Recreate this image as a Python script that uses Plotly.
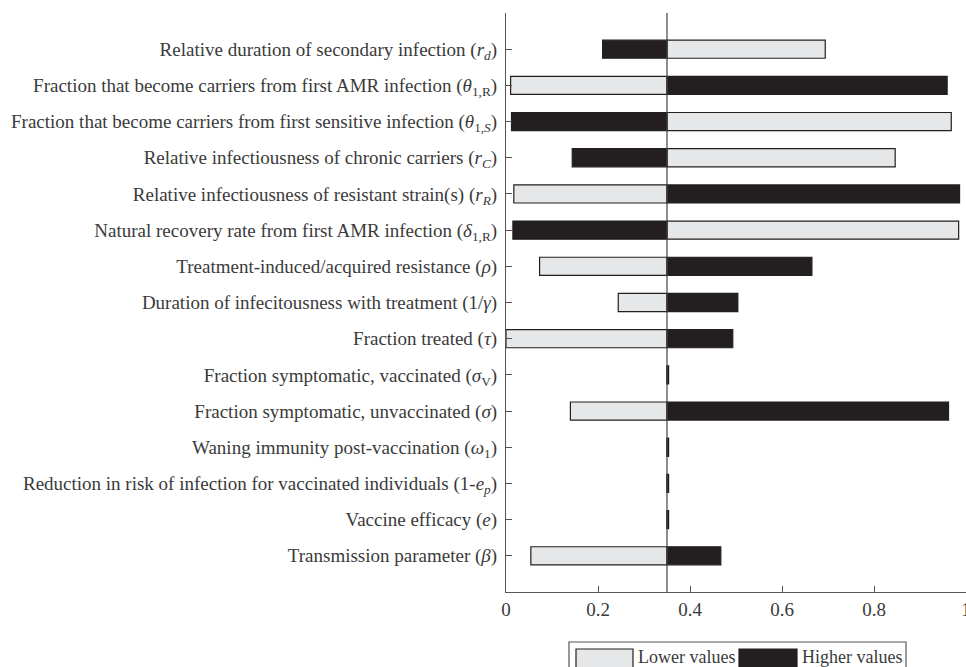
import plotly.graph_objects as go

# Parameters listed top to bottom
categories = [
    "Relative duration of secondary infection (<i>r</i><sub><i>d</i></sub>)",
    "Fraction that become carriers from first AMR infection (<i>θ</i><sub>1,R</sub>)",
    "Fraction that become carriers from first sensitive infection (<i>θ</i><sub>1,<i>S</i></sub>)",
    "Relative infectiousness of chronic carriers (<i>r</i><sub><i>C</i></sub>)",
    "Relative infectiousness of resistant strain(s) (<i>r</i><sub><i>R</i></sub>)",
    "Natural recovery rate from first AMR infection (<i>δ</i><sub>1,R</sub>)",
    "Treatment-induced/acquired resistance (<i>ρ</i>)",
    "Duration of infecitousness with treatment (1/<i>γ</i>)",
    "Fraction treated (<i>τ</i>)",
    "Fraction symptomatic, vaccinated (<i>σ</i><sub>V</sub>)",
    "Fraction symptomatic, unvaccinated (<i>σ</i>)",
    "Waning immunity post-vaccination (<i>ω</i><sub>1</sub>)",
    "Reduction in risk of infection for vaccinated individuals (1-<i>e</i><sub><i>p</i></sub>)",
    "Vaccine efficacy (<i>e</i>)",
    "Transmission parameter (<i>β</i>)",
]
lower_values = [0.694, 0.010, 0.968, 0.846, 0.017, 0.984, 0.073, 0.244, 0.000,
                0.350, 0.140, 0.350, 0.350, 0.350, 0.054]
higher_values = [0.210, 0.959, 0.012, 0.144, 0.986, 0.015, 0.665, 0.504, 0.493,
                 0.3535, 0.962, 0.3535, 0.3535, 0.3535, 0.467]
baseline = 0.35
x_ticks = [0, 0.2, 0.4, 0.6, 0.8, 1]
x_tick_labels = ["0", "0.2", "0.4", "0.6", "0.8", "1"]

n = len(categories)
ypos = [n - i for i in range(n)]

LIGHT = "#e6e7e8"
DARK = "#231f20"
TXT = "#3a3a3a"
FONT = "Liberation Serif"

fig = go.Figure()
fig.add_trace(go.Bar(
    y=ypos, x=[v - baseline for v in lower_values], base=baseline,
    orientation="h", width=0.5, name="Lower values",
    marker=dict(color=LIGHT, line=dict(color=DARK, width=1.2)),
    showlegend=False,
))
fig.add_trace(go.Bar(
    y=ypos, x=[v - baseline for v in higher_values], base=baseline,
    orientation="h", width=0.5, name="Higher values",
    marker=dict(color=DARK, line=dict(color=DARK, width=1.2)),
    showlegend=False,
))

fig.add_shape(type="line", xref="x", yref="paper", x0=baseline, x1=baseline,
              y0=0, y1=1, line=dict(color="#444", width=1.2), layer="above")

# Legend (drawn below the plot); pixel -> paper helpers
def px_y(p):
    return (592 - p) / 579.0
def px_x(p):
    return (p - 506) / 460.0

fig.add_shape(type="rect", xref="paper", yref="paper",
              x0=px_x(569), x1=px_x(906), y0=px_y(690), y1=px_y(642),
              line=dict(color="#555", width=1.2), fillcolor="white")
fig.add_shape(type="rect", xref="paper", yref="paper",
              x0=px_x(576), x1=px_x(633), y0=px_y(672), y1=px_y(649),
              line=dict(color=DARK, width=1.2), fillcolor=LIGHT)
fig.add_shape(type="rect", xref="paper", yref="paper",
              x0=px_x(739), x1=px_x(797), y0=px_y(672), y1=px_y(649),
              line=dict(color=DARK, width=1.2), fillcolor=DARK)
fig.add_annotation(xref="paper", yref="paper", x=px_x(636), y=px_y(657),
                   text="Lower values", showarrow=False, xanchor="left",
                   yanchor="middle", font=dict(family=FONT, size=18, color=TXT))
fig.add_annotation(xref="paper", yref="paper", x=px_x(800), y=px_y(657),
                   text="Higher values", showarrow=False, xanchor="left",
                   yanchor="middle", font=dict(family=FONT, size=18, color=TXT))

fig.update_layout(
    width=966, height=667,
    margin=dict(l=506, r=0, t=13, b=75, autoexpand=False),
    barmode="overlay",
    plot_bgcolor="white", paper_bgcolor="white",
    font=dict(family=FONT, size=19, color=TXT),
    xaxis=dict(range=[0, 1], tickvals=x_ticks, ticktext=x_tick_labels,
               ticks="inside", ticklen=6, tickcolor="#555",
               ticklabeloverflow="allow", automargin=False,
               showline=True, linecolor="#555", linewidth=1.2,
               showgrid=False, zeroline=False, fixedrange=True,
               tickfont=dict(family=FONT, size=19, color=TXT)),
    yaxis=dict(range=[0, n + 1], tickvals=ypos, ticktext=categories,
               ticks="inside", ticklen=6, tickcolor="#555",
               ticklabelstandoff=4, automargin=False,
               showline=True, linecolor="#555", linewidth=1.2,
               showgrid=False, zeroline=False, fixedrange=True,
               tickfont=dict(family=FONT, size=19, color=TXT)),
)

fig.write_html(
    "out.html",
    config={"displayModeBar": False},
    post_script="document.body.style.margin='0';document.body.style.overflow='hidden';",
)
